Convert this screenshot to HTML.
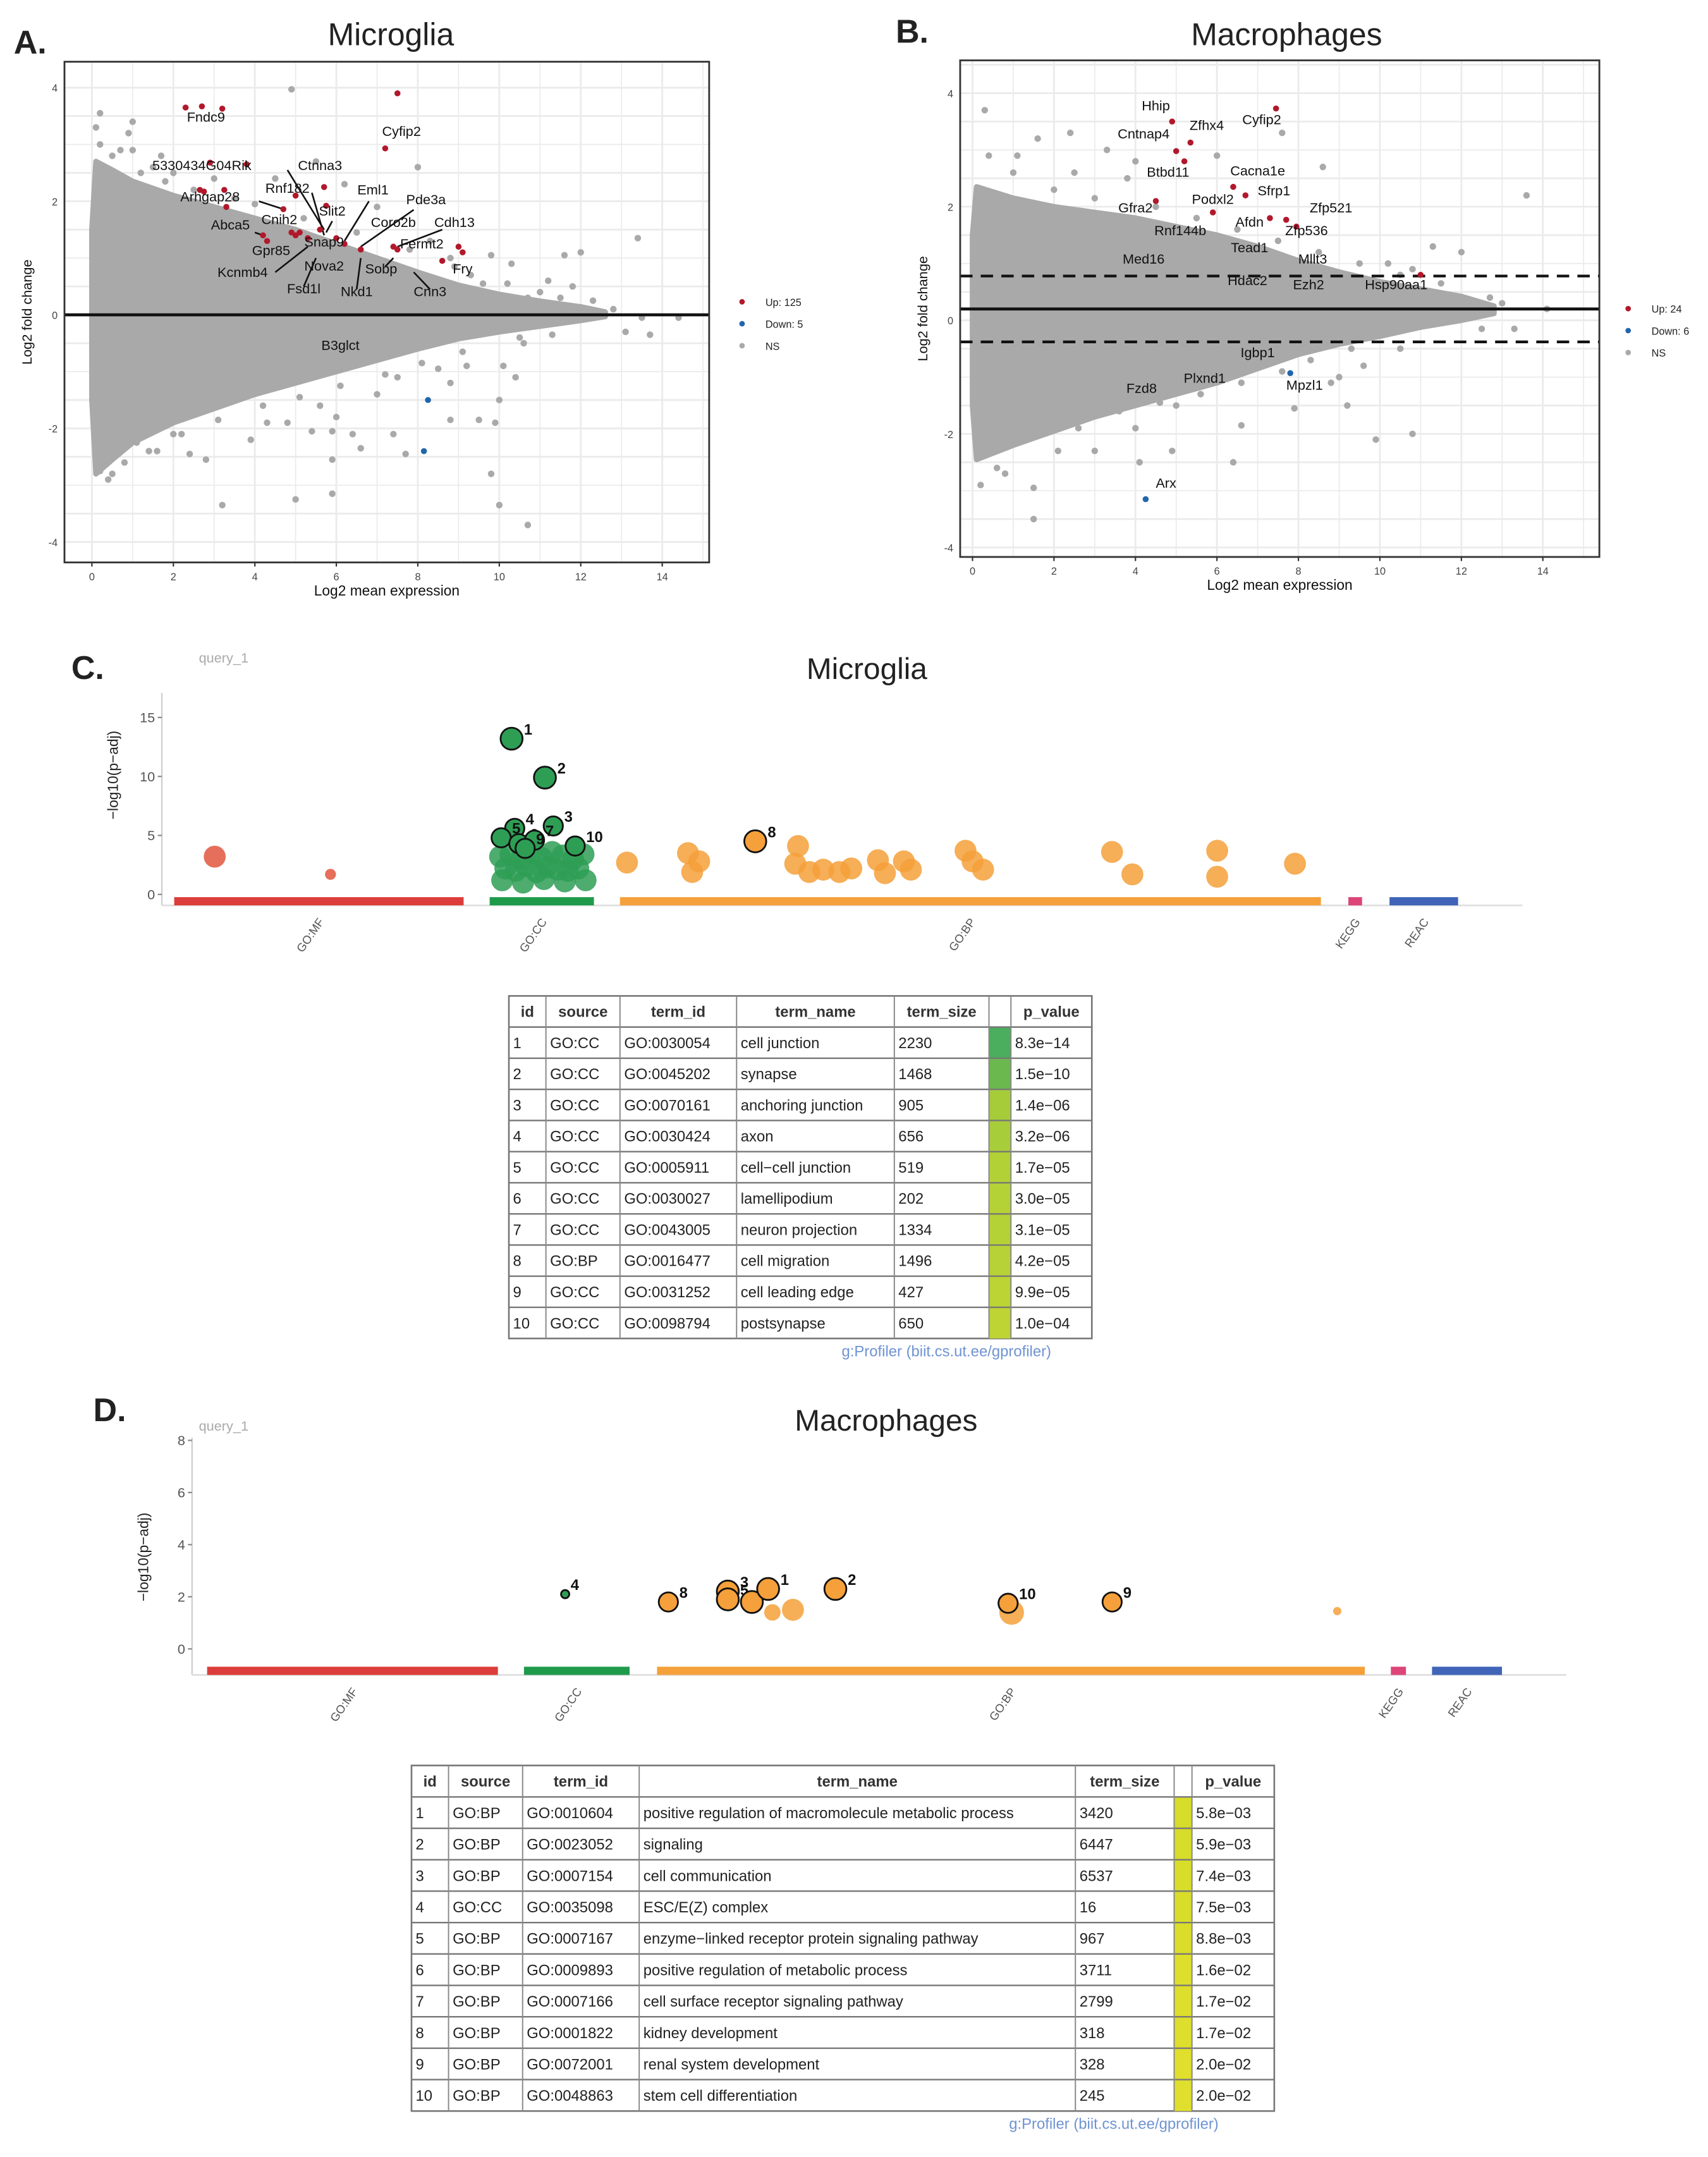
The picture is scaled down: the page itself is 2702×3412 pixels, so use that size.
<!DOCTYPE html>
<html><head><meta charset="utf-8">
<style>
html,body{margin:0;padding:0;background:#fff;}
svg{display:block;font-family:"Liberation Sans",Arial,sans-serif;}
</style></head>
<body>
<svg id="fig" xmlns="http://www.w3.org/2000/svg" width="2702" height="3412" viewBox="0 0 1245.2 1572.4"></svg>
<script>
// ---------- DATA: Panel A (Microglia MA plot) ----------
const aUpX=[2.3,2.7,3.2,7.5,7.2,2.9,3.8,2.65,2.75,3.25,5.7,5.75,4.7,5.0,4.9,5.1,5.3,5.0,4.2,6.0,6.2,6.6,7.4,7.5,9.0,9.1,8.6,5.6,4.3,3.3];
const aUpY=[3.65,3.67,3.63,3.9,2.93,2.68,2.65,2.2,2.17,2.2,2.25,1.92,1.86,2.1,1.45,1.45,1.35,1.4,1.4,1.35,1.25,1.15,1.2,1.15,1.2,1.1,0.95,1.5,1.3,1.9];
const aDnX=[8.25,8.15];
const aDnY=[-1.5,-2.4];
const aNsX=[0.2,0.1,1.0,0.9,1.0,0.2,0.5,1.7,4.9,8,5.5,13.4,12,11.6,10.3,9.8,11.2,11.8,12.8,13.5,14.4,13.1,13.7,10.5,10.1,10.4,8.8,9.2,10,9.9,9.5,8.8,7.4,6.4,6.6,5.9,5.4,5.9,7.7,9.8,10,10.7,5.9,5,3.2,3.9,2.4,2.8,1.6,1.1,0.5,0.2,2,4.3,4.8,5.6,6,7,7.5,8.5,9.6,10.7,11.5,1.5,2.0,3,4.5,6.2,7,8.3,8.8,1.2,1.8,2.5,3.5,4.0,5.2,6.5,7.8,8.9,9.3,10.2,11.0,12.3,1.4,2.2,3.1,4.2,5.1,6.1,7.2,8.1,9.1,10.6,11.3,0.7,0.4,0.8];
const aNsY=[3.55,3.3,3.4,3.2,2.9,3.0,2.8,2.8,3.97,2.6,2.7,1.35,1.1,1.05,0.9,1.05,0.6,0.5,0.1,-0.05,-0.05,-0.3,-0.35,-0.4,-0.9,-1.1,-1.2,-0.9,-1.5,-1.9,-1.85,-1.85,-2.1,-2.1,-2.35,-2.05,-2.05,-2.55,-2.45,-2.8,-3.35,-3.7,-3.15,-3.25,-3.35,-2.2,-2.45,-2.55,-2.4,-2.25,-2.8,-2.75,-2.1,-1.9,-1.9,-1.6,-1.8,-1.4,-1.1,-0.95,0.55,0.3,0.3,2.6,2.5,2.4,2.4,2.3,1.9,1.3,1.0,2.5,2.35,2.2,2.05,1.95,1.7,1.45,1.15,0.85,0.7,0.55,0.4,0.25,-2.4,-2.1,-1.85,-1.6,-1.45,-1.25,-1.05,-0.85,-0.65,-0.5,-0.35,2.9,-2.9,-2.6];
const aCloudUpX=[0,0.1,0.5,1,2,3,4,5,6,7,8,9,10,11,12,12.6];
const aCloudUpY=[1.5,2.7,2.55,2.35,2.1,1.9,1.7,1.5,1.25,1.0,0.75,0.52,0.36,0.24,0.14,0.05];
const aCloudLoX=[0,0.1,0.5,1,2,3,4,5,6,7,8,9,10,11,12,12.6];
const aCloudLoY=[-1.5,-2.8,-2.55,-2.25,-1.9,-1.65,-1.4,-1.2,-1.0,-0.8,-0.6,-0.42,-0.3,-0.2,-0.1,-0.03];
const aLabels=["Fndc9","Cyfip2","5330434G04Rik","Ctnna3","Arhgap28","Rnf182","Eml1","Pde3a","Slit2","Cnih2","Coro2b","Cdh13","Abca5","Fermt2","Snap9","Gpr85","Nova2","Sobp","Fry","Kcnmb4","Fsd1l","Nkd1","Cnn3","B3glct"];
const aLabX=[2.8,7.6,2.7,5.6,2.9,4.8,6.9,8.2,5.9,4.6,7.4,8.9,3.4,8.1,5.7,4.4,5.7,7.1,9.1,3.7,5.2,6.5,8.3,6.1];
const aLabY=[3.4,3.15,2.55,2.55,2.0,2.15,2.12,1.95,1.75,1.6,1.55,1.55,1.5,1.17,1.2,1.05,0.78,0.73,0.73,0.67,0.38,0.33,0.33,-0.62];
// ---------- DATA: Panel B (Macrophages MA plot) ----------
const bUpX=[4.9,7.45,5.35,5.0,5.2,6.4,6.7,7.3,7.7,7.95,5.9,4.5,11.0];
const bUpY=[3.5,3.73,3.13,2.98,2.8,2.35,2.2,1.8,1.77,1.65,1.9,2.1,0.8];
const bDnX=[4.25,7.8];
const bDnY=[-3.15,-0.93];
const bNsX=[2.4,1.1,3.3,2.5,4,6,7.6,13.6,11.3,12,10.2,10.8,12.7,13,14.1,12.5,13.3,10.5,9.6,9,8.8,9.2,7.9,6.6,5,4,3,2.1,0.6,1.5,0.2,1.5,4.1,4.9,6.4,0.3,1.6,3.8,8.6,10.8,9.9,1.0,2.0,3.0,4.5,5.5,6.5,7.5,8.5,9.5,10.5,11.5,2.6,3.6,4.6,5.6,6.6,7.6,8.3,9.3,0.4,0.8];
const bNsY=[3.3,2.9,3.0,2.6,2.8,2.9,3.3,2.2,1.3,1.2,1.0,0.9,0.4,0.3,0.2,-0.15,-0.15,-0.5,-0.8,-1.0,-1.1,-1.5,-1.55,-1.85,-1.5,-1.9,-2.3,-2.3,-2.6,-2.95,-2.9,-3.5,-2.5,-2.3,-2.5,3.7,3.2,2.5,2.7,-2.0,-2.1,2.6,2.3,2.15,2.0,1.8,1.6,1.4,1.2,1.0,0.8,0.65,-1.9,-1.6,-1.45,-1.3,-1.1,-0.9,-0.7,-0.5,2.9,-2.7];
const bCloudUpX=[0,0.1,1,2,3,4,5,6,7,8,9,10,11,12,12.8];
const bCloudUpY=[1.5,2.35,2.15,2.0,1.9,1.8,1.65,1.5,1.3,1.05,0.85,0.68,0.55,0.42,0.25];
const bCloudLoX=[0,0.1,1,2,3,4,5,6,7,8,9,10,11,12,12.8];
const bCloudLoY=[-1.5,-2.45,-2.2,-1.95,-1.7,-1.5,-1.3,-1.1,-0.85,-0.6,-0.42,-0.28,-0.12,0.0,0.12];
const bLabels=["Hhip","Cyfip2","Cntnap4","Zfhx4","Btbd11","Cacna1e","Gfra2","Podxl2","Sfrp1","Zfp521","Afdn","Rnf144b","Zfp536","Tead1","Med16","Mllt3","Hdac2","Ezh2","Hsp90aa1","Igbp1","Plxnd1","Fzd8","Mpzl1","Arx"];
const bLabX=[4.5,7.1,4.2,5.75,4.8,7.0,4.0,5.9,7.4,8.8,6.8,5.1,8.2,6.8,4.2,8.35,6.75,8.25,10.4,7.0,5.7,4.15,8.15,4.75];
const bLabY=[3.7,3.45,3.2,3.35,2.53,2.55,1.9,2.05,2.2,1.9,1.65,1.5,1.5,1.2,1.0,1.0,0.62,0.55,0.55,-0.65,-1.1,-1.28,-1.22,-2.95];
// ---------- DATA: Panel C (g:Profiler Microglia) ----------
const cMfPos=[0.14,0.54];
const cMfVal=[3.2,1.7];
const cMfSize=[8,4];
const cCcPos=[0.21,0.53,0.61,0.24,0.11,0.28,0.43,0.34,0.82,0.1,0.2,0.3,0.4,0.5,0.6,0.7,0.8,0.9,0.15,0.25,0.35,0.45,0.55,0.65,0.75,0.85,0.12,0.32,0.52,0.72,0.92];
const cCcVal=[13.2,9.9,5.8,5.6,4.8,4.3,4.6,3.9,4.1,3.2,3.4,3.0,3.5,3.1,3.6,3.3,3.0,3.4,2.2,2.0,2.4,1.9,2.3,2.1,2.0,2.2,1.2,1.0,1.3,1.1,1.2];
const cCcSize=[8,8,7,7,7,7,7,7,7,8,8,8,8,8,8,8,8,8,8,8,8,8,8,8,8,8,8,8,8,8,8];
const cCcHi=["1","2","3","4","5","6","7","9","10","","","","","","","","","","","","","","","","","","","","","",""];
const cBpPos=[0.01,0.097,0.103,0.113,0.193,0.254,0.25,0.27,0.29,0.313,0.33,0.368,0.378,0.405,0.415,0.493,0.503,0.518,0.702,0.731,0.852,0.852,0.963];
const cBpVal=[2.7,3.5,1.9,2.8,4.5,4.1,2.6,1.9,2.1,1.9,2.2,2.9,1.8,2.8,2.1,3.7,2.8,2.1,3.6,1.7,3.7,1.5,2.6];
const cBpHi=["","","","","8","","","","","","","","","","","","","","","","","",""];
const cIds=["1","2","3","4","5","6","7","8","9","10"];
const cSrc=["GO:CC","GO:CC","GO:CC","GO:CC","GO:CC","GO:CC","GO:CC","GO:BP","GO:CC","GO:CC"];
const cTid=["GO:0030054","GO:0045202","GO:0070161","GO:0030424","GO:0005911","GO:0030027","GO:0043005","GO:0016477","GO:0031252","GO:0098794"];
const cName=["cell junction","synapse","anchoring junction","axon","cell\u2212cell junction","lamellipodium","neuron projection","cell migration","cell leading edge","postsynapse"];
const cSize=["2230","1468","905","656","519","202","1334","1496","427","650"];
const cP=["8.3e\u221214","1.5e\u221210","1.4e\u221206","3.2e\u221206","1.7e\u221205","3.0e\u221205","3.1e\u221205","4.2e\u221205","9.9e\u221205","1.0e\u221204"];
const cCol=["#4aae5e","#6ab84e","#a6cc3a","#a8cd3a","#b2d137","#b4d236","#b4d236","#b6d236","#bcd434","#bed434"];
// ---------- DATA: Panel D (g:Profiler Macrophages) ----------
const dCcPos=[0.39];
const dCcVal=[2.1];
const dCcSize=[3];
const dCcHi=["4"];
const dBpPos=[0.016,0.1,0.1,0.134,0.157,0.163,0.192,0.252,0.496,0.501,0.643,0.961];
const dBpVal=[1.8,2.2,1.9,1.8,2.3,1.4,1.5,2.3,1.75,1.4,1.8,1.45];
const dBpSize=[7,8,8,8,8,6,8,8,7,9,7,3];
const dBpHi=["8","3","5","6","1","","","2","10","","9",""];
const dIds=["1","2","3","4","5","6","7","8","9","10"];
const dSrc=["GO:BP","GO:BP","GO:BP","GO:CC","GO:BP","GO:BP","GO:BP","GO:BP","GO:BP","GO:BP"];
const dTid=["GO:0010604","GO:0023052","GO:0007154","GO:0035098","GO:0007167","GO:0009893","GO:0007166","GO:0001822","GO:0072001","GO:0048863"];
const dName=["positive regulation of macromolecule metabolic process","signaling","cell communication","ESC/E(Z) complex","enzyme\u2212linked receptor protein signaling pathway","positive regulation of metabolic process","cell surface receptor signaling pathway","kidney development","renal system development","stem cell differentiation"];
const dSize=["3420","6447","6537","16","967","3711","2799","318","328","245"];
const dP=["5.8e\u221203","5.9e\u221203","7.4e\u221203","7.5e\u221203","8.8e\u221203","1.6e\u221202","1.7e\u221202","1.7e\u221202","2.0e\u221202","2.0e\u221202"];
const dCol=["#d6dc2a","#d6dc2a","#d8dd2a","#d8dd2a","#dadd2a","#dede2c","#dede2c","#dede2c","#e0df2e","#e0df2e"];

const NS="http://www.w3.org/2000/svg";
const svg=document.getElementById('fig');
function mk(tag,attrs,parent){const e=document.createElementNS(NS,tag);for(const k in attrs)e.setAttribute(k,attrs[k]);(parent||svg).appendChild(e);return e;}
function txt(s,x,y,size,attrs,parent){const e=mk('text',Object.assign({x:x,y:y,'font-size':size},attrs||{}),parent);e.textContent=s;return e;}

function maPlot(o){
  const g=mk('g',{});
  
  
  const sx=v=>o.x0+v*o.xs, sy=v=>o.y0-v*o.ys;
  const bg=mk('rect',{x:o.bx,y:o.by,width:o.bw,height:o.bh,fill:'#fff'},g);
  
  
  for(let v=-1;v<=15;v++){const X=sx(v);if(X<o.bx||X>o.bx+o.bw)continue;
    const l=mk('line',{x1:X,x2:X,y1:o.by,y2:o.by+o.bh,stroke:'#ebebeb','stroke-width':v%2?0.8:1.3},g);
    
    }
  for(let v=-4.5;v<=4.5;v+=1){const Y=sy(v);if(Y<o.by||Y>o.by+o.bh)continue;
    const l=mk('line',{x1:o.bx,x2:o.bx+o.bw,y1:Y,y2:Y,stroke:'#ebebeb','stroke-width':1.3},g);
    
    }
  for(let v=-4;v<=4;v+=1){const Y=sy(v);const l=mk('line',{x1:o.bx,x2:o.bx+o.bw,y1:Y,y2:Y,stroke:'#ebebeb','stroke-width':v%2?0.8:1.3},g);
    
    }
  let d='M'+sx(o.cux[0])+','+sy(o.cuy[0]);
  for(let i=1;i<o.cux.length;i++)d+=' L'+sx(o.cux[i])+','+sy(o.cuy[i]);
  for(let i=o.clx.length-1;i>=0;i--)d+=' L'+sx(o.clx[i])+','+sy(o.cly[i]);
  d+='Z';
  const cl=mk('path',{d:d,fill:'#a9a9a9',stroke:'#a9a9a9','stroke-width':4,'stroke-linejoin':'round'},g);
  
  
  for(let i=0;i<o.nsx.length;i++){const c=mk('circle',{cx:sx(o.nsx[i]),cy:sy(o.nsy[i]),r:2.4,fill:'#a9a9a9'},g);
    
    }
  if(o.dash){o.dash.forEach(v=>{const l=mk('line',{x1:o.bx,x2:o.bx+o.bw,y1:sy(v),y2:sy(v),stroke:'#111','stroke-width':2,'stroke-dasharray':'9,6'},g);
    
    });}
  const zl=mk('line',{x1:o.bx,x2:o.bx+o.bw,y1:sy(o.hline),y2:sy(o.hline),stroke:'#111','stroke-width':2.2},g);
  
  
  (o.leaders||[]).forEach(p=>{const l=mk('line',{x1:sx(p[0]),y1:sy(p[1]),x2:sx(p[2]),y2:sy(p[3]),stroke:'#111','stroke-width':1.2},g);
    
    });
  for(let i=0;i<o.upx.length;i++){const c=mk('circle',{cx:sx(o.upx[i]),cy:sy(o.upy[i]),r:2.2,fill:'#b2182b'},g);
    
    }
  for(let i=0;i<o.dnx.length;i++){const c=mk('circle',{cx:sx(o.dnx[i]),cy:sy(o.dny[i]),r:2.2,fill:'#2166ac'},g);
    
    }
  for(let i=0;i<o.labs.length;i++){const t=txt(o.labs[i],sx(o.labx[i]),sy(o.laby[i]),10,{'text-anchor':'middle',fill:'#111'},g);
    
    }
  const fr=mk('rect',{x:o.bx,y:o.by,width:o.bw,height:o.bh,fill:'none',stroke:'#333','stroke-width':1.3},g);
  
  
  for(let v=0;v<=14;v+=2){const t=txt(String(v),sx(v),o.by+o.bh+13,7.5,{'text-anchor':'middle',fill:'#444'},g);
    
    
    const tk=mk('line',{x1:sx(v),x2:sx(v),y1:o.by+o.bh,y2:o.by+o.bh+3,stroke:'#333','stroke-width':1},g);
    
    }
  for(let v=-4;v<=4;v+=2){const t=txt(String(v),o.bx-5,sy(v)+3,7.5,{'text-anchor':'end',fill:'#444'},g);
    
    }
  const xl=txt('Log2 mean expression',o.bx+o.bw/2,o.by+o.bh+24,10.5,{'text-anchor':'middle',fill:'#111'},g);
  
  
  const yl=txt('Log2 fold change',0,0,10,{'text-anchor':'middle',fill:'#111',transform:'translate('+(o.bx-24)+','+(o.by+o.bh/2)+') rotate(-90)'},g);
  
  
  const tt=txt(o.title,o.tx,33,23,{'text-anchor':'middle',fill:'#222'},g);
  
  
  const pl=txt(o.letter,o.lx,o.ly,24,{'font-weight':'bold',fill:'#222'},g);
  
  
  const leg=[['Up: '+o.nUp,'#b2182b'],['Down: '+o.nDn,'#2166ac'],['NS','#a9a9a9']];
  leg.forEach((e,i)=>{const c=mk('circle',{cx:o.legx,cy:o.legy+i*16,r:2,fill:e[1]},g);
    
    
    const t=txt(e[0],o.legx+17,o.legy+i*16+3,7.5,{fill:'#222'},g);
    
    });
}
maPlot({name:'microglia-ma-plot',bx:47,by:45,bw:470,bh:365,x0:67,xs:29.7,y0:229.5,ys:41.4,
  cux:aCloudUpX,cuy:aCloudUpY,clx:aCloudLoX,cly:aCloudLoY,nsx:aNsX,nsy:aNsY,upx:aUpX,upy:aUpY,dnx:aDnX,dny:aDnY,
  labs:aLabels,labx:aLabX,laby:aLabY,hline:0,title:'Microglia',tx:285,letter:'A.',lx:10,ly:39,nUp:125,nDn:5,legx:541,legy:220,
  leaders:[[4.8,2.55,5.7,1.5],[4.1,2.0,4.7,1.86],[5.4,2.15,5.7,1.4],[6.8,2.0,6.2,1.3],[7.9,1.85,6.6,1.2],[5.9,1.65,5.75,1.45],[8.6,1.5,7.5,1.2],[4.0,1.45,4.2,1.4],[4.5,0.75,5.3,1.2],[5.2,0.5,5.5,1.0],[6.5,0.45,6.6,1.0],[8.3,0.45,7.9,0.75],[7.2,0.85,7.4,1.0]]});
maPlot({name:'macrophages-ma-plot',bx:700,by:44,bw:466,bh:362,x0:709,xs:29.7,y0:233.5,ys:41.4,
  cux:bCloudUpX,cuy:bCloudUpY,clx:bCloudLoX,cly:bCloudLoY,nsx:bNsX,nsy:bNsY,upx:bUpX,upy:bUpY,dnx:bDnX,dny:bDnY,
  labs:bLabels,labx:bLabX,laby:bLabY,hline:0.2,dash:[0.78,-0.38],title:'Macrophages',tx:938,letter:'B.',lx:653,ly:31,nUp:24,nDn:6,legx:1187,legy:225,leaders:[]});

function gost(o){
  const g=mk('g',{});
  
  
  const sy=v=>o.y0-v*o.ys;
  const pl=txt(o.letter,o.lx,o.ly,24,{'font-weight':'bold',fill:'#222'},g);
  
  
  const q=txt('query_1',145,o.qy,10,{fill:'#aaa'},g);
  
  
  const tt=txt(o.title,o.tx,o.ty,22,{'text-anchor':'middle',fill:'#222'},g);
  
  
  const ya=mk('line',{x1:o.ax,x2:o.ax,y1:o.ytop,y2:o.axisY,stroke:'#ccc','stroke-width':1},g);
  
  
  const xa=mk('line',{x1:o.ax,x2:o.axEnd,y1:o.axisY,y2:o.axisY,stroke:'#ddd','stroke-width':1.2},g);
  
  
  o.ticks.forEach(v=>{const t=txt(String(v),o.ax-5,sy(v)+3.5,10,{'text-anchor':'end',fill:'#555'},g);
    
    
    const tk=mk('line',{x1:o.ax-3,x2:o.ax,y1:sy(v),y2:sy(v),stroke:'#888','stroke-width':1},g);
    
    });
  const yl=txt('\u2212log10(p\u2212adj)',0,0,10.5,{'text-anchor':'middle',fill:'#222',transform:'translate('+(o.ax-32)+','+o.ylabY+') rotate(-90)'},g);
  
  
  o.cats.forEach(c=>{const r=mk('rect',{x:c[1],y:o.axisY-6,width:c[2]-c[1],height:6,fill:c[3]},g);
    
    
    const cx=(c[1]+c[2])/2;
    const t=txt(c[0],0,0,8.5,{'text-anchor':'end',fill:'#555',transform:'translate('+(cx+4)+','+(o.axisY+12)+') rotate(-55)'},g);
    
    });
  o.series.forEach(s=>{const c=o.cats[s.cat];
    const sx=p=>c[1]+p*(c[2]-c[1]);
    for(let pass=0;pass<2;pass++){
    for(let i=0;i<s.pos.length;i++){const hi=s.hi?s.hi[i]:'';if((hi!=='')!==(pass===1))continue;
      const r=s.size?s.size[i]:8;
      const attrs={cx:sx(s.pos[i]),cy:sy(s.val[i]),r:r,fill:s.color,'fill-opacity':hi?1:0.85};
      if(hi){attrs.stroke='#111';attrs['stroke-width']=1.3;}
      const e=mk('circle',attrs,g);
      
      
      if(hi){const t=txt(hi,sx(s.pos[i])+r+1,sy(s.val[i])-3,11,{'font-weight':'bold',fill:'#111'},g);
        
        }
    }}
  });
}
gost({name:'microglia-gost-plot',letter:'C.',lx:52,ly:495,qy:483,title:'Microglia',tx:632,ty:495,ax:118,axEnd:1110,ytop:505,axisY:660,y0:652,ys:8.6,ticks:[0,5,10,15],ylabY:565,
  cats:[['GO:MF',127,338,'#dc3d3a'],['GO:CC',357,433,'#1f9a4b'],['GO:BP',452,963,'#f5a03a'],['KEGG',983,993,'#dd4477'],['REAC',1013,1063,'#3f64b8']],
  series:[{cat:0,pos:cMfPos,val:cMfVal,size:cMfSize,color:'#e0563e'},{cat:1,pos:cCcPos,val:cCcVal,size:cCcSize,hi:cCcHi,color:'#2e9e55'},{cat:2,pos:cBpPos,val:cBpVal,hi:cBpHi,color:'#f5a03a'}]});
gost({name:'macrophages-gost-plot',letter:'D.',lx:68,ly:1036,qy:1043,title:'Macrophages',tx:646,ty:1043,ax:140,axEnd:1142,ytop:1048,axisY:1221,y0:1202,ys:19,ticks:[0,2,4,6,8],ylabY:1135,
  cats:[['GO:MF',151,363,'#dc3d3a'],['GO:CC',382,459,'#1f9a4b'],['GO:BP',479,995,'#f5a03a'],['KEGG',1014,1025,'#dd4477'],['REAC',1044,1095,'#3f64b8']],
  series:[{cat:1,pos:dCcPos,val:dCcVal,size:dCcSize,hi:dCcHi,color:'#2e9e55'},{cat:2,pos:dBpPos,val:dBpVal,size:dBpSize,hi:dBpHi,color:'#f5a03a'}]});

function table(o){
  const g=mk('g',{});
  
  
  const cols=o.cols, rh=o.rh, n=o.ids.length;
  const heads=['id','source','term_id','term_name','term_size','','p_value'];
  const H=rh*(n+1);
  const bgr=mk('rect',{x:cols[0],y:o.y,width:cols[7]-cols[0],height:H,fill:'#fff',stroke:'#777','stroke-width':1.2},g);
  
  
  for(let r=0;r<n;r++){const c=mk('rect',{x:cols[5],y:o.y+rh*(r+1),width:cols[6]-cols[5],height:rh,fill:o.col[r]},g);
    
    }
  for(let r=1;r<=n;r++){const l=mk('line',{x1:cols[0],x2:cols[7],y1:o.y+rh*r,y2:o.y+rh*r,stroke:'#777','stroke-width':1.1},g);
    
    }
  for(let c=1;c<7;c++){const l=mk('line',{x1:cols[c],x2:cols[c],y1:o.y,y2:o.y+H,stroke:'#888','stroke-width':0.9},g);
    
    }
  heads.forEach((h,c)=>{if(!h)return;const t=txt(h,(cols[c]+cols[c+1])/2,o.y+rh/2+4,11,{'text-anchor':'middle',fill:'#333','font-weight':'bold'},g);
    
    });
  const data=[o.ids,o.src,o.tid,o.names,o.size,null,o.p];
  for(let r=0;r<n;r++){data.forEach((arr,c)=>{if(!arr)return;const t=txt(arr[r],cols[c]+3,o.y+rh*(r+1)+rh/2+4,11,{fill:'#222'},g);
    
    });}
  const f=txt('g:Profiler (biit.cs.ut.ee/gprofiler)',o.fx,o.y+H+13,11,{'text-anchor':'middle',fill:'#6f93d3'},g);
  
  
}
table({name:'microglia-term-table',cols:[371,398,452,537,652,721,737,796],y:726,rh:22.7,ids:cIds,src:cSrc,tid:cTid,names:cName,size:cSize,p:cP,col:cCol,fx:690});
table({name:'macrophages-term-table',cols:[300,327,381,466,784,856,869,929],y:1287,rh:22.9,ids:dIds,src:dSrc,tid:dTid,names:dName,size:dSize,p:dP,col:dCol,fx:812});
</script>
</body></html>
